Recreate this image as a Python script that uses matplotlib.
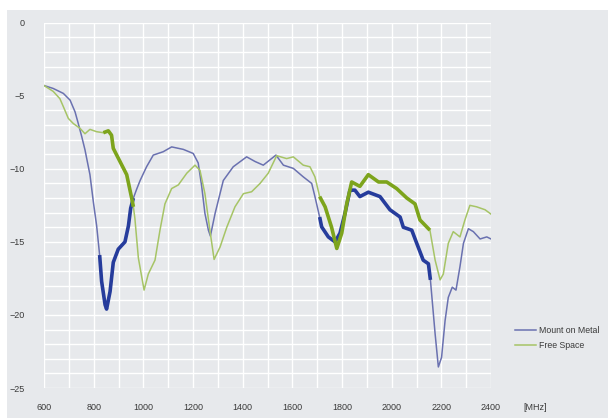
import matplotlib.pyplot as plt
from matplotlib.patches import Rectangle
from matplotlib.lines import Line2D
import numpy as np

# === DATOS ===
metal_f = [600, 637, 678, 705, 725, 738, 752, 765, 785, 799, 812, 824, 832, 846, 852, 866,
           879, 899, 926, 940, 949, 960, 973, 987, 1013, 1040, 1080, 1114, 1161, 1201, 1221,
           1235, 1248, 1262, 1270, 1289, 1322, 1362, 1416, 1450, 1483, 1534, 1564, 1604,
           1644, 1678, 1691, 1710, 1718, 1745, 1772, 1792, 1812, 1832, 1852, 1872, 1906,
           1953, 1993, 2034, 2047, 2081, 2101, 2127, 2148, 2156, 2175, 2188, 2201, 2215,
           2228, 2244, 2259, 2275, 2289, 2309, 2329, 2356, 2383, 2400]
metal_db = [-4.3, -4.5, -4.84, -5.3, -6.1, -6.9, -7.8, -8.7, -10.4, -12.3, -13.9, -15.9,
            -17.7, -19.3, -19.6, -18.4, -16.4, -15.5, -15.0, -13.9, -12.7, -12.0, -11.4,
            -10.8, -9.86, -9.06, -8.83, -8.5, -8.67, -8.95, -9.6, -11.2, -13.05, -14.2,
            -14.6, -13.05, -10.8, -9.86, -9.18, -9.5, -9.75, -9.06, -9.75, -9.97, -10.55,
            -11.0, -11.9, -13.3, -13.97, -14.66, -15.0, -14.4, -13.05, -11.46, -11.46,
            -11.9, -11.6, -11.9, -12.8, -13.3, -14.0, -14.2, -15.1, -16.25, -16.5, -17.6,
            -21.3, -23.56, -22.9, -20.4, -18.8, -18.1, -18.3, -16.7, -15.1, -14.1, -14.3,
            -14.8, -14.66, -14.8]

free_f = [600, 637, 664, 678, 698, 718, 745, 765, 785, 812, 839, 859, 872, 879, 906, 933,
          953, 960, 966, 980, 1003, 1020, 1047, 1067, 1087, 1114, 1141, 1175, 1208, 1228,
          1248, 1268, 1285, 1309, 1336, 1369, 1403, 1436, 1470, 1503, 1537, 1577, 1604,
          1644, 1671, 1691, 1710, 1732, 1758, 1779, 1799, 1819, 1839, 1872, 1906, 1947,
          1980, 2020, 2061, 2094, 2114, 2154, 2175, 2195, 2208, 2228, 2248, 2275, 2295,
          2315, 2342, 2376, 2400]
free_db = [-4.3, -4.7, -5.2, -5.75, -6.55, -6.9, -7.23, -7.6, -7.3, -7.46, -7.53, -7.4,
           -7.7, -8.6, -9.5, -10.4, -12.0, -12.6, -13.4, -16.1, -18.3, -17.2, -16.25,
           -14.2, -12.4, -11.35, -11.1, -10.3, -9.75, -10.1, -11.7, -14.2, -16.2, -15.35,
           -14.0, -12.6, -11.7, -11.57, -11.0, -10.3, -9.1, -9.3, -9.18, -9.75, -9.86,
           -10.55, -11.9, -12.6, -14.0, -15.45, -14.4, -12.4, -10.9, -11.2, -10.4, -10.9,
           -10.9, -11.35, -12.0, -12.4, -13.5, -14.2, -16.25, -17.6, -17.2, -15.1, -14.3,
           -14.66, -13.5, -12.5, -12.6, -12.8, -13.1]

bandas = [(824, 960), (1710, 2160)]
x_ticks = [600, 800, 1000, 1200, 1400, 1600, 1800, 2000, 2200, 2400]
y_ticks = [0, -5, -10, -15, -20, -25]

# === COLORES ===
gris = '#e7e9ec'
azul_fino = '#6a71b0'
azul_grueso = '#263c9c'
verde_fino = '#a6c466'
verde_grueso = '#7da41c'
texto = '#3a3a3a'

plt.rcParams['font.family'] = ['Liberation Sans', 'DejaVu Sans']

fig = plt.figure(figsize=(6.08, 4.18), dpi=100, facecolor='white')
fig.patches.append(Rectangle((7 / 608, 0), 1, 1 - 10 / 418, transform=fig.transFigure,
                             facecolor=gris, edgecolor='none', zorder=-10))
ax = fig.add_axes([44 / 608, 1 - 388 / 418, 447 / 608, 365.3 / 418])
ax.set_facecolor(gris)

mf, md = np.array(metal_f), np.array(metal_db)
ff, fd = np.array(free_f), np.array(free_db)

ax.plot(mf, md, color=azul_fino, lw=1.1, zorder=3)
ax.plot(ff, fd, color=verde_fino, lw=1.1, zorder=3)
for a, b in bandas:
    sel = (mf >= a) & (mf <= b)
    ax.plot(mf[sel], md[sel], color=azul_grueso, lw=2.6, zorder=4, solid_capstyle='butt')
    sel = (ff >= a) & (ff <= b)
    ax.plot(ff[sel], fd[sel], color=verde_grueso, lw=2.6, zorder=4, solid_capstyle='butt')

ax.set_xlim(600, 2400)
ax.set_ylim(-25, 0)
ax.set_xticks(x_ticks)
ax.set_yticks(y_ticks)
ax.set_xticks(np.arange(600, 2401, 100), minor=True)
ax.set_yticks(np.arange(-25, 1, 1), minor=True)
ax.grid(True, which='both', color='white', lw=1.0)
ax.set_axisbelow(True)
for s in ax.spines.values():
    s.set_visible(False)
ax.tick_params(which='both', length=0, labelsize=6.5, labelcolor=texto)
ax.tick_params(axis='x', pad=11)
ax.tick_params(axis='y', pad=14)

fig.text(523 / 608, 1 - 407 / 418, '[MHz]', fontsize=6.5, color=texto, va='center')

handles = [Line2D([], [], color=azul_fino, lw=1.1), Line2D([], [], color=verde_fino, lw=1.1)]
fig.legend(handles, ['Mount on Metal', 'Free Space'], loc='upper left',
           bbox_to_anchor=(507 / 608, 1 - 318 / 418), frameon=False, fontsize=6.3,
           handlelength=2.4, handletextpad=0.4, labelspacing=0.75, labelcolor=texto)

fig.savefig('out.png', dpi=100, facecolor=fig.get_facecolor())
